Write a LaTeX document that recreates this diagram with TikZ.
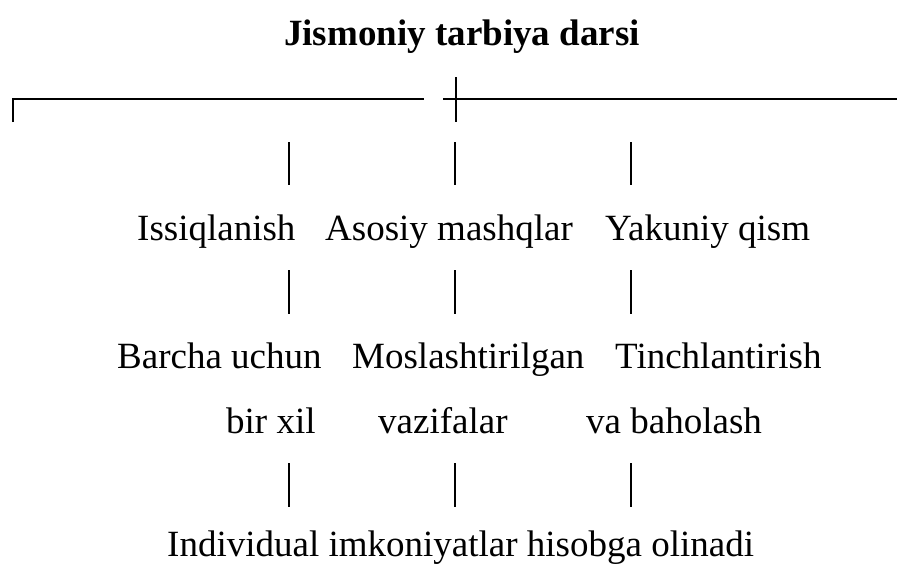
\documentclass[tikz,border=0pt]{standalone}
\usepackage{fontspec}
\setmainfont{Liberation Serif}
\usetikzlibrary{arrows,calc,positioning}
\tikzstyle{lbl}=[inner sep=0pt,anchor=base west,font=\fontsize{37}{44}\selectfont]
\tikzstyle{ttl}=[lbl,font=\fontsize{37}{44}\selectfont\bfseries]
\tikzstyle{bar}=[line width=2.8pt]

\begin{document}
\begin{tikzpicture}[x=1pt,y=-1pt]
    \useasboundingbox (0,0) rectangle (897,566);
    \node [ttl] (dars) at (284,45) {Jismoniy tarbiya darsi};

    \node [lbl] (iss) at (137,240) {Issiqlanish};
    \node [lbl] (aso) at (325,240) {Asosiy mashqlar};
    \node [lbl] (yak) at (605,240) {Yakuniy qism};

    \node [lbl] (bar1) at (117,368) {Barcha uchun};
    \node [lbl] (mos1) at (352,368) {Moslashtirilgan};
    \node [lbl] (tin1) at (615,368) {Tinchlantirish};
    \node [lbl] (bar2) at (226,433) {bir xil};
    \node [lbl] (mos2) at (378,433) {vazifalar};
    \node [lbl] (tin2) at (586,433) {va baholash};

    \node [lbl] (ind) at (167,556) {Individual imkoniyatlar hisobga olinadi};

    \coordinate (lc) at (13,122);
    \coordinate (lt) at (13,99);
    \coordinate (le) at (424,99);
    \coordinate (rs) at (443,99);
    \coordinate (re) at (897,99);
    \coordinate (xt) at (456,77);
    \coordinate (xb) at (456,122);
    \draw[bar] (lc) -- (lt) -- (le);
    \draw[bar] (rs) -- (re);
    \draw[bar] (xt) -- (xb);

    \foreach \x/\n in {289/a,455/b,631/c}
      \foreach \ya/\yb/\r in {142/185/1,270/314/2,463/507/3} {
        \coordinate (\n\r t) at (\x,\ya);
        \coordinate (\n\r b) at (\x,\yb);
        \draw[bar] (\n\r t) -- (\n\r b);
      }
\end{tikzpicture}
\end{document}
